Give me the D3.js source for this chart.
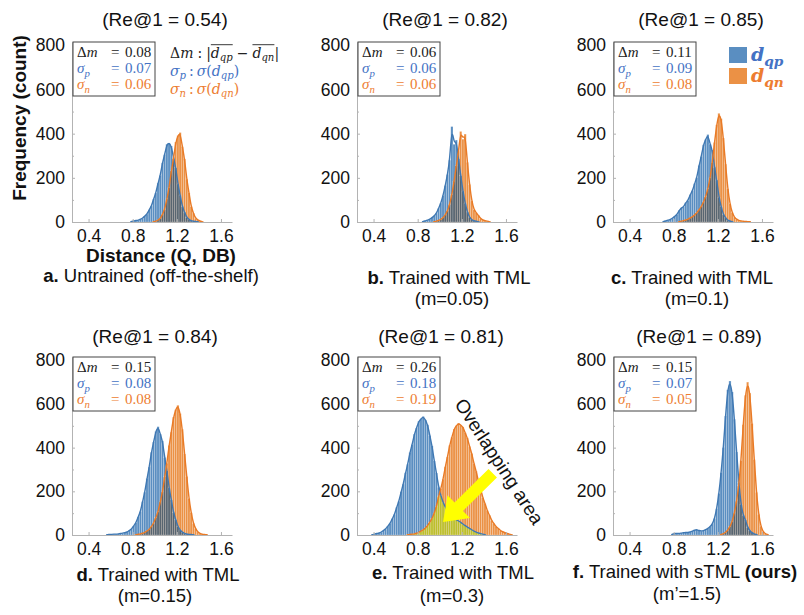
<!DOCTYPE html>
<html>
<head>
<meta charset="utf-8">
<script src="https://cdn.jsdelivr.net/npm/d3@7"></script>
<style>
  body { margin: 0; background: #fff; }
</style>
</head>
<body>
<div id="chart"></div>
<script>
// ---- data ----
const recallAt1 = [0.54, 0.82, 0.85, 0.84, 0.81, 0.89];
const deltaM = [0.08, 0.06, 0.11, 0.15, 0.26, 0.15];
const sigmaP = [0.07, 0.06, 0.09, 0.08, 0.18, 0.07];
const sigmaN = [0.06, 0.06, 0.08, 0.08, 0.19, 0.05];

const panelLetters = ['a.', 'b.', 'c.', 'd.', 'e.', 'f.'];
const captionText = ['Untrained (off-the-shelf)', 'Trained with TML', 'Trained with TML',
    'Trained with TML', 'Trained with TML', 'Trained with sTML'];
const captionBoldTail = ['', '', '', '', '', '(ours)'];
const marginText = ['', '(m=0.05)', '(m=0.1)', '(m=0.15)', '(m=0.3)', '(m\u2019=1.5)'];

const xTicks = [0.4, 0.8, 1.2, 1.6];
const yTicks = [0, 200, 400, 600, 800];
const yMinorTicks = [100, 300, 500, 700];

// histogram counts, bin width 0.02, first bin lower edge in *Start arrays
const binWidth = 0.02;
const qpStart = [0.78, 0.84, 0.70, 0.56, 0.38, 0.78];
const qnStart = [0.98, 0.94, 0.84, 0.82, 0.70, 1.22];

const qpA = [3, 4, 7, 8, 13, 17, 27, 36, 55, 72, 104, 131, 176, 211, 268, 305, 352, 358, 344, 292, 246, 172, 121, 70, 44, 21, 12, 5, 3, 2, 1];
const qnA = [2, 3, 9, 15, 34, 57, 104, 155, 231, 286, 362, 391, 405, 341, 286, 194, 132, 69, 40, 17, 9, 4, 2];
const qpB = [3, 5, 8, 12, 20, 28, 40, 62, 85, 120, 165, 215, 280, 432, 352, 371, 285, 210, 140, 85, 45, 22, 10, 5, 3, 2];
const qnB = [2, 4, 7, 12, 20, 32, 50, 80, 125, 185, 255, 320, 410, 375, 398, 270, 170, 95, 55, 42, 30, 15, 9, 6, 4, 2];
const qpC = [3, 5, 8, 12, 18, 25, 34, 52, 64, 68, 88, 97, 124, 141, 174, 201, 256, 296, 350, 374, 396, 352, 326, 248, 190, 112, 70, 34, 19, 8, 4, 2];
const qnC = [2, 4, 6, 9, 13, 18, 24, 32, 42, 55, 70, 90, 115, 150, 200, 270, 360, 440, 492, 468, 380, 262, 150, 82, 42, 22, 12, 7, 5, 3, 2, 2, 1];
const qpD = [2, 2, 3, 4, 4, 5, 7, 8, 11, 14, 21, 27, 42, 56, 83, 107, 153, 196, 259, 311, 379, 426, 474, 496, 462, 431, 355, 294, 216, 161, 103, 70, 38, 23, 12, 7, 4, 3, 2, 1];
const qnD = [2, 3, 5, 8, 12, 19, 25, 39, 54, 80, 106, 151, 197, 266, 328, 410, 471, 540, 574, 594, 556, 484, 371, 268, 167, 102, 53, 29, 14, 7, 3, 2, 1];
const qpE = [2, 4, 7, 9, 13, 21, 27, 41, 53, 75, 94, 127, 154, 198, 233, 285, 324, 378, 414, 462, 490, 521, 531, 543, 527, 505, 455, 408, 339, 284, 219, 180, 150, 128, 112, 98, 87, 78, 70, 64, 58, 50, 43, 36, 30, 24, 18, 13, 9, 6, 4, 2];
const qnE = [2, 3, 4, 5, 8, 12, 17, 24, 32, 43, 58, 76, 100, 130, 178, 212, 255, 312, 357, 411, 447, 485, 500, 512, 503, 495, 468, 445, 405, 373, 327, 292, 245, 212, 171, 144, 112, 91, 67, 53, 38, 30, 20, 15, 10, 7, 4, 2];
const qpF = [5, 6, 8, 7, 9, 10, 12, 11, 14, 18, 22, 25, 20, 18, 20, 24, 30, 38, 50, 75, 120, 190, 285, 400, 545, 665, 705, 655, 530, 380, 240, 140, 90, 70, 35, 20, 10, 5, 2];
const qnF = [3, 6, 12, 22, 38, 62, 100, 155, 225, 340, 505, 640, 700, 650, 510, 345, 195, 95, 40, 15, 6, 2];

const qpCounts = [qpA, qpB, qpC, qpD, qpE, qpF];
const qnCounts = [qnA, qnB, qnC, qnD, qnE, qnF];

// panel e annotation (data coordinates)
const arrowFrom = [1.48, 283];
const arrowTo = [1.03, 59];
const overlapLabelAt = [1.13, 600];

// ---- layout ----
const W = 804, H = 615;
const xDomain = [0.25, 1.7];
const yDomain = [0, 815];
const layout = {
    left:   [72, 357, 613, 72, 357, 613],
    base:   [222, 222, 222, 535, 535, 535],
    top:    [42, 42, 42, 357, 357, 357],
    titleX: [165, 445, 701, 155, 441, 699],
    titleY: [26, 26, 26, 343, 343, 343],
    capX:   [151, 449, 692, 158, 453, 685],
    capY:   [282, 284, 284, 581, 579, 578],
    subX:   [0, 452, 697, 155, 452, 687],
    subY:   [0, 305, 305, 602, 602, 600]
};
const axisWidth = 160;

const COLORS = {
    qpBar: '#5a8ec1', qnBar: '#eb9145', both: '#586570', yellowBoth: '#bcbf2c',
    qpLine: '#3f78b3', qnLine: '#e97a26',
    qpText: '#4472c4', qnText: '#ed7d31', ink: '#222', axis: '#b3b3b3'
};
const sansFont = '"Liberation Sans", Arial, sans-serif';
const mathFont = '"DejaVu Serif", "Liberation Serif", serif';
const boxFont = '"Liberation Serif", "DejaVu Serif", serif';

const svg = d3.select('#chart').append('svg')
    .attr('width', W).attr('height', H)
    .attr('font-family', sansFont)
    .style('background', '#fff');

function toBins(counts, start) {
    return counts.map((c, k) => ({
        x0: start + k * binWidth,
        x1: start + (k + 1) * binWidth,
        c: c
    }));
}

// math-ish text built piece by piece (italic, subscript, overline)
function mathText(g, x, y, pieces, size, color, family) {
    let cx = x;
    const overs = {};
    pieces.forEach(p => {
        const fs = p.sub ? size * 0.72 : size;
        const t = g.append('text')
            .attr('x', cx)
            .attr('y', y + (p.sub ? size * 0.24 : 0))
            .attr('font-family', family || mathFont)
            .attr('font-size', fs)
            .attr('font-style', p.it ? 'italic' : 'normal')
            .attr('font-weight', p.bold ? 'bold' : 'normal')
            .attr('fill', color)
            .text(p.t);
        const w = t.node().getComputedTextLength();
        if (p.over) {
            const o = overs[p.over] || (overs[p.over] = { a: cx, b: cx });
            o.b = cx + w;
        }
        cx += w + (p.gap || 0);
    });
    Object.values(overs).forEach(o => {
        g.append('line')
            .attr('x1', o.a).attr('x2', o.b)
            .attr('y1', y - size * 0.95).attr('y2', y - size * 0.95)
            .attr('stroke', color).attr('stroke-width', 0.9);
    });
    return cx;
}

function drawBars(g, bins, x, y, base, fill) {
    g.selectAll(null)
        .data(bins)
        .join('rect')
        .attr('x', d => x(d.x0))
        .attr('width', d => x(d.x1) - x(d.x0))
        .attr('y', d => y(d.c))
        .attr('height', d => base - y(d.c))
        .attr('fill', fill)
        .attr('stroke', 'rgba(255,255,255,0.4)')
        .attr('stroke-width', 0.5);
}

function drawFit(g, bins, x, y, color) {
    const pts = [{ m: bins[0].x0, c: 0 }]
        .concat(bins.map(d => ({ m: (d.x0 + d.x1) / 2, c: d.c })))
        .concat([{ m: bins[bins.length - 1].x1, c: 0 }]);
    const line = d3.line()
        .x(d => x(d.m))
        .y(d => y(d.c))
        .curve(d3.curveBasis);
    g.append('path')
        .attr('d', line(pts))
        .attr('fill', 'none')
        .attr('stroke', color)
        .attr('stroke-width', 1.4);
}

recallAt1.forEach((re, i) => {
    const x0 = layout.left[i], base = layout.base[i], top = layout.top[i];
    const x = d3.scaleLinear().domain(xDomain).range([x0, x0 + axisWidth]);
    const y = d3.scaleLinear().domain(yDomain).range([base, top]);
    const g = svg.append('g');

    const qp = toBins(qpCounts[i], qpStart[i]);
    const qn = toBins(qnCounts[i], qnStart[i]);
    const qnByKey = new Map(qn.map(d => [Math.round(d.x0 * 100), d]));
    const overlap = qp
        .filter(d => qnByKey.has(Math.round(d.x0 * 100)))
        .map(d => ({ x0: d.x0, x1: d.x1, c: Math.min(d.c, qnByKey.get(Math.round(d.x0 * 100)).c) }));

    drawBars(g, qp, x, y, base, COLORS.qpBar);
    drawBars(g, qn, x, y, base, COLORS.qnBar);
    drawBars(g, overlap, x, y, base, i === 4 ? COLORS.yellowBoth : COLORS.both);
    drawFit(g, qp, x, y, COLORS.qpLine);
    drawFit(g, qn, x, y, COLORS.qnLine);

    // axes
    const xAxis = d3.axisBottom(x).tickValues(xTicks)
        .tickSizeInner(-3).tickSizeOuter(0).tickPadding(8)
        .tickFormat(d3.format('.1f'));
    const yAxis = d3.axisLeft(y).tickValues(yTicks)
        .tickSizeInner(-3).tickSizeOuter(0).tickPadding(7);
    const yMinor = d3.axisLeft(y).tickValues(yMinorTicks)
        .tickSizeInner(-2).tickSizeOuter(0).tickFormat('');

    [g.append('g').attr('transform', `translate(0,${base})`).call(xAxis),
     g.append('g').attr('transform', `translate(${x0},0)`).call(yAxis),
     g.append('g').attr('transform', `translate(${x0},0)`).call(yMinor)]
        .forEach(a => {
            a.select('.domain').attr('stroke', COLORS.axis);
            a.selectAll('.tick line').attr('stroke', COLORS.axis);
            a.selectAll('.tick text')
                .attr('font-family', sansFont)
                .attr('font-size', 17.5).attr('fill', '#111');
        });

    // title
    svg.append('text')
        .attr('x', layout.titleX[i]).attr('y', layout.titleY[i])
        .attr('text-anchor', 'middle').attr('font-size', 19).attr('fill', '#111')
        .text(`(Re@1 = ${re.toFixed(2)})`);

    // caption
    const cap = svg.append('text')
        .attr('x', layout.capX[i]).attr('y', layout.capY[i])
        .attr('text-anchor', 'middle').attr('font-size', 18.5).attr('fill', '#111');
    cap.append('tspan').attr('font-weight', 'bold').text(panelLetters[i]);
    cap.append('tspan').text(' ' + captionText[i] + (captionBoldTail[i] ? ' ' : ''));
    if (captionBoldTail[i]) cap.append('tspan').attr('font-weight', 'bold').text(captionBoldTail[i]);
    if (marginText[i]) {
        svg.append('text')
            .attr('x', layout.subX[i]).attr('y', layout.subY[i])
            .attr('text-anchor', 'middle').attr('font-size', 18.5).attr('fill', '#111')
            .text(marginText[i]);
    }

    // stats box
    const bx = x0 + 1, by = top, bw = 82, bh = 54;
    g.append('rect')
        .attr('x', bx).attr('y', by).attr('width', bw).attr('height', bh)
        .attr('fill', '#fff').attr('stroke', '#444').attr('stroke-width', 1);
    const rows = [
        { sym: [{ t: '\u0394' }, { t: 'm', it: true }], v: deltaM[i], col: COLORS.ink },
        { sym: [{ t: '\u03c3', it: true }, { t: 'p', it: true, sub: true }], v: sigmaP[i], col: COLORS.qpText },
        { sym: [{ t: '\u03c3', it: true }, { t: 'n', it: true, sub: true }], v: sigmaN[i], col: COLORS.qnText }
    ];
    rows.forEach((r, k) => {
        const ty = by + 15 + k * 16;
        mathText(g, bx + 4, ty, r.sym, 15, r.col, boxFont);
        mathText(g, bx + 38, ty, [{ t: '=' }], 15, r.col, boxFont);
        mathText(g, bx + 52, ty, [{ t: r.v.toFixed(2) }], 15, r.col, boxFont);
    });
});

// y / x axis titles (panel a only)
svg.append('text')
    .attr('transform', 'translate(26,118) rotate(-90)')
    .attr('text-anchor', 'middle').attr('font-size', 19).attr('font-weight', 'bold').attr('fill', '#111')
    .text('Frequency (count)');
svg.append('text')
    .attr('x', 161).attr('y', 262)
    .attr('text-anchor', 'middle').attr('font-size', 19).attr('font-weight', 'bold').attr('fill', '#111')
    .text('Distance (Q, DB)');

// definitions next to panel a
const defs = svg.append('g');
mathText(defs, 170, 58, [
    { t: '\u0394' }, { t: 'm', it: true, gap: 4 }, { t: ':', gap: 4 }, { t: '|' },
    { t: 'd', it: true, over: 1 }, { t: 'qp', it: true, sub: true, over: 1, gap: 4 },
    { t: '\u2212', gap: 4 },
    { t: 'd', it: true, over: 2 }, { t: 'qn', it: true, sub: true, over: 2 }, { t: '|' }
], 14, COLORS.ink);
mathText(defs, 170, 76, [
    { t: '\u03c3', it: true }, { t: 'p', it: true, sub: true, gap: 3 }, { t: ':', gap: 3 },
    { t: '\u03c3', it: true }, { t: '(' }, { t: 'd', it: true }, { t: 'qp', it: true, sub: true }, { t: ')' }
], 14, COLORS.qpText);
mathText(defs, 170, 94, [
    { t: '\u03c3', it: true }, { t: 'n', it: true, sub: true, gap: 3 }, { t: ':', gap: 3 },
    { t: '\u03c3', it: true }, { t: '(' }, { t: 'd', it: true }, { t: 'qn', it: true, sub: true }, { t: ')' }
], 14, COLORS.qnText);

// legend in panel c
const legend = svg.append('g');
[{ col: COLORS.qpBar, txt: COLORS.qpText, s: 'qp', y: 47 },
 { col: COLORS.qnBar, txt: COLORS.qnText, s: 'qn', y: 68 }].forEach(l => {
    legend.append('rect').attr('x', 729).attr('y', l.y).attr('width', 18).attr('height', 16)
        .attr('fill', l.col);
    mathText(legend, 751, l.y + 14, [{ t: 'd', it: true, bold: true }, { t: l.s, it: true, bold: true, sub: true }],
        19, l.txt);
});

// overlap annotation in panel e
(function () {
    const x = d3.scaleLinear().domain(xDomain).range([layout.left[4], layout.left[4] + axisWidth]);
    const y = d3.scaleLinear().domain(yDomain).range([layout.base[4], layout.top[4]]);
    const p0 = [x(arrowFrom[0]), y(arrowFrom[1])];
    const p1 = [x(arrowTo[0]), y(arrowTo[1])];
    const dx = p1[0] - p0[0], dy = p1[1] - p0[1];
    const len = Math.hypot(dx, dy);
    const u = [dx / len, dy / len], n = [-u[1], u[0]];
    const headLen = 22, shaft = 6, head = 16;
    const hb = [p1[0] - u[0] * headLen, p1[1] - u[1] * headLen];
    const pt = (p, s) => [p[0] + n[0] * s, p[1] + n[1] * s];
    const poly = [pt(p0, shaft), pt(hb, shaft), pt(hb, head), p1, pt(hb, -head), pt(hb, -shaft), pt(p0, -shaft)];
    svg.append('polygon')
        .attr('points', poly.map(p => p.join(',')).join(' '))
        .attr('fill', '#ffff00');
    svg.append('text')
        .attr('transform', `translate(${x(overlapLabelAt[0])},${y(overlapLabelAt[1])}) rotate(57)`)
        .attr('font-size', 19).attr('fill', '#111')
        .text('Overlapping area');
})();
</script>
</body>
</html>
